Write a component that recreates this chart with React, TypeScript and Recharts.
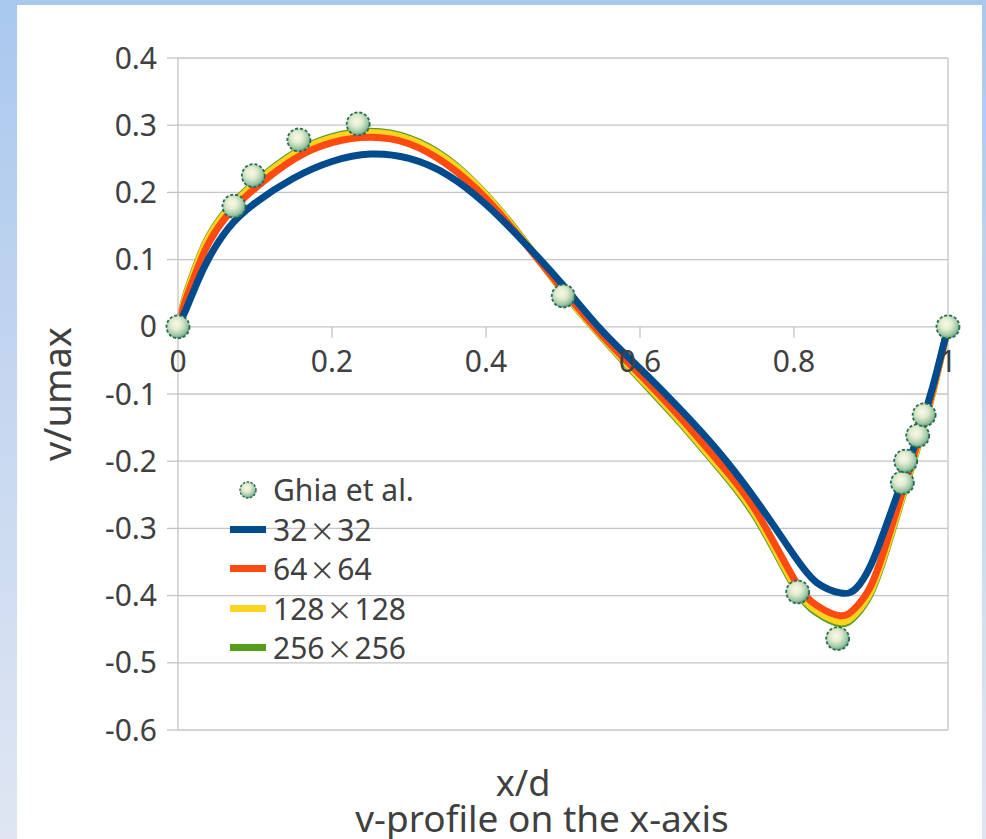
import React from 'react';
import {
  LineChart,
  Line,
  XAxis,
  YAxis,
  CartesianGrid,
  ReferenceLine,
  ReferenceDot,
  Label,
  Legend,
} from 'recharts';

// ---------- data ----------
const gridX = [0, 0.01, 0.025, 0.04, 0.065, 0.1, 0.15, 0.2, 0.25, 0.3, 0.35, 0.4, 0.45, 0.5, 0.55, 0.6, 0.65, 0.7, 0.75, 0.8, 0.83, 0.86, 0.88, 0.9, 0.92, 0.94, 0.96, 0.98, 1];

const v32 = [0, 0.025, 0.066, 0.102, 0.146, 0.184, 0.221, 0.246, 0.257, 0.2505, 0.226, 0.182, 0.125, 0.062, -0.005, -0.062, -0.12, -0.183, -0.257, -0.34, -0.381, -0.396, -0.39, -0.354, -0.295, -0.231, -0.165, -0.09, 0];
const v64 = [0, 0.04, 0.086, 0.125, 0.167, 0.206, 0.249, 0.274, 0.282, 0.2725, 0.241, 0.191, 0.125, 0.055, -0.012, -0.071, -0.132, -0.198, -0.273, -0.375, -0.415, -0.43, -0.418, -0.385, -0.322, -0.249, -0.175, -0.095, 0];
const v128 = [0, 0.045, 0.094, 0.133, 0.174, 0.213, 0.256, 0.281, 0.289, 0.279, 0.248, 0.196, 0.127, 0.053, -0.014, -0.076, -0.138, -0.205, -0.28, -0.383, -0.423, -0.439, -0.427, -0.393, -0.33, -0.255, -0.18, -0.098, 0];
const v256 = [0, 0.047, 0.096, 0.135, 0.176, 0.215, 0.258, 0.283, 0.291, 0.281, 0.25, 0.197, 0.128, 0.052, -0.015, -0.078, -0.14, -0.207, -0.283, -0.386, -0.426, -0.442, -0.43, -0.396, -0.333, -0.257, -0.182, -0.099, 0];

const ghiaX = [0, 0.0727, 0.0978, 0.157, 0.234, 0.5004, 0.8048, 0.8567, 0.9407, 0.9451, 0.9607, 0.969, 1];
const ghiaV = [0, 0.1795, 0.2249, 0.278, 0.302, 0.0458, -0.3946, -0.464, -0.232, -0.1997, -0.162, -0.131, 0];

const xTicks = [0, 0.2, 0.4, 0.6, 0.8, 1];
const xTickLabels = ['0', '0.2', '0.4', '0.6', '0.8', '1'];
const yTicks = [-0.6, -0.5, -0.4, -0.3, -0.2, -0.1, 0, 0.1, 0.2, 0.3, 0.4];
const yTickLabels = ['-0.6', '-0.5', '-0.4', '-0.3', '-0.2', '-0.1', '0', '0.1', '0.2', '0.3', '0.4'];

const legendOrder = ['Ghia et al.', '32×32', '64×64', '128×128', '256×256'];

// ---------- build tables ----------
const toRows = (xs: number[], vs: number[]) => xs.map((x, i) => ({ x, v: vs[i] }));
const d32 = toRows(gridX, v32);
const d64 = toRows(gridX, v64);
const d128 = toRows(gridX, v128);
const d256 = toRows(gridX, v256);
const dGhia = toRows(ghiaX, ghiaV);

const FONT = '"Noto Sans", "DejaVu Sans", sans-serif';
const TEXT = '#404040';
const GRID = '#c4c4c4';

const colors: Record<string, string> = {
  '32×32': '#004b8d',
  '64×64': '#ff4a12',
  '128×128': '#ffd320',
  '256×256': '#579d1c',
};

const GhiaDot = (props: any) => {
  const { cx, cy, index } = props;
  if (cx == null || cy == null) return <g key={`g${index}`} />;
  return (
    <circle
      key={`g${index}`}
      cx={cx}
      cy={cy}
      r={11.5}
      fill="url(#ghiaGrad)"
      stroke="#2a6a4f"
      strokeWidth={1.8}
      strokeDasharray="3 2"
    />
  );
};

const makeXTick = (label: string) => (props: any) => {
  const { cx, cy } = props;
  return (
    <g>
      <line x1={cx} y1={cy} x2={cx} y2={cy + 11} stroke={GRID} strokeWidth={1.3} />
      <text
        x={cx}
        y={cy + 45}
        textAnchor="middle"
        fontFamily={FONT}
        fontSize={30}
        fill={TEXT}
      >
        {label}
      </text>
    </g>
  );
};

const XTitle = (props: any) => {
  const vb = props.viewBox || {};
  const cxm = vb.x + vb.width / 2;
  return (
    <g>
      <text x={cxm - 40} y={vb.y + 66} textAnchor="middle" fontFamily={FONT} fontSize={36} fill={TEXT}>
        x/d
      </text>
      <text x={cxm - 21} y={vb.y + 102} textAnchor="middle" fontFamily={FONT} fontSize={37} fill={TEXT}>
        v-profile on the x-axis
      </text>
    </g>
  );
};

const YTitle = (props: any) => {
  const vb = props.viewBox || {};
  const cym = vb.y + vb.height / 2;
  const x = vb.x + 71;
  return (
    <text
      x={x}
      y={cym}
      transform={`rotate(-90, ${x}, ${cym})`}
      textAnchor="middle"
      fontFamily={FONT}
      fontSize={38}
      fill={TEXT}
    >
      v/umax
    </text>
  );
};

const renderName = (name: string) => {
  const parts = name.split('×');
  if (parts.length < 2) return name;
  return (
    <>
      {parts[0]}
      <span style={{ fontFamily: '"Noto Sans CJK JP", "Noto Sans", sans-serif', fontSize: 26, margin: '0 2px' }}>×</span>
      {parts[1]}
    </>
  );
};

const LegendContent = () => {
  return (
    <div style={{ fontFamily: FONT, fontSize: 30, color: TEXT }}>
      {legendOrder.map((name) => (
        <div key={name} style={{ display: 'flex', alignItems: 'center', height: 39.5 }}>
          <div style={{ width: 36, display: 'flex', justifyContent: 'center', alignItems: 'center', marginRight: 7 }}>
            {name === 'Ghia et al.' ? (
              <svg width={20} height={20}>
                <circle cx={10} cy={10} r={8} fill="url(#ghiaGrad)" stroke="#2a6a4f" strokeWidth={1.4} strokeDasharray="2.5 1.5" />
              </svg>
            ) : (
              <div style={{ width: 36, height: 7, background: colors[name] }} />
            )}
          </div>
          <span style={{ lineHeight: '39.5px', whiteSpace: 'nowrap' }}>{renderName(name)}</span>
        </div>
      ))}
    </div>
  );
};

export default function App() {
  return (
    <div
      style={{
        position: 'absolute',
        left: 0,
        top: 0,
        width: 986,
        height: 839,
        overflow: 'hidden',
        background: 'linear-gradient(to bottom, #a9c8ee 0%, #c4d6f0 45%, #dfe6f2 100%)',
      }}
    >
      <div
        style={{
          position: 'absolute',
          left: 17,
          top: 5,
          width: 965,
          height: 860,
          background: '#ffffff',
        }}
      />
      <div style={{ position: 'absolute', left: 0, top: 0 }}>
        <LineChart width={986} height={839} margin={{ top: 58, right: 38, bottom: 0, left: 0 }}>
          <defs>
            <radialGradient id="ghiaGrad" cx="42%" cy="38%" r="62%">
              <stop offset="0%" stopColor="#f9f9e6" />
              <stop offset="40%" stopColor="#e2ebcf" />
              <stop offset="80%" stopColor="#9cc7a6" />
              <stop offset="100%" stopColor="#5d9c7b" />
            </radialGradient>
          </defs>
          <CartesianGrid horizontal vertical={false} stroke={GRID} strokeWidth={1.3} />
          <XAxis
            type="number"
            dataKey="x"
            domain={[0, 1]}
            ticks={xTicks}
            tick={false}
            tickLine={false}
            axisLine={false}
            height={109}
          >
            <Label content={XTitle} />
          </XAxis>
          <YAxis
            type="number"
            domain={[-0.6, 0.4]}
            ticks={yTicks}
            interval={0}
            width={178}
            tickSize={11}
            tickMargin={10}
            tickFormatter={(v: number) => yTickLabels[yTicks.indexOf(v)] ?? String(v)}
            tick={{ fontFamily: FONT, fontSize: 30, fill: TEXT }}
            tickLine={{ stroke: GRID, strokeWidth: 1.3 }}
            axisLine={{ stroke: GRID, strokeWidth: 1.3 }}
          >
            <Label content={YTitle} />
          </YAxis>
          <ReferenceLine x={1} stroke={GRID} strokeWidth={1.3} />
          {xTicks.map((t, i) => (
            <ReferenceDot key={`xt${i}`} x={t} y={0} r={0} shape={makeXTick(xTickLabels[i])} />
          ))}
          <Line data={d256} dataKey="v" name="256×256" type="natural" stroke={colors['256×256']} strokeWidth={7} dot={false} activeDot={false} isAnimationActive={false} />
          <Line data={d128} dataKey="v" name="128×128" type="natural" stroke={colors['128×128']} strokeWidth={7} dot={false} activeDot={false} isAnimationActive={false} />
          <Line data={d64} dataKey="v" name="64×64" type="natural" stroke={colors['64×64']} strokeWidth={7} dot={false} activeDot={false} isAnimationActive={false} />
          <Line data={d32} dataKey="v" name="32×32" type="natural" stroke={colors['32×32']} strokeWidth={7} dot={false} activeDot={false} isAnimationActive={false} />
          <Line data={dGhia} dataKey="v" name="Ghia et al." stroke="none" strokeWidth={0} dot={GhiaDot} activeDot={false} legendType="circle" isAnimationActive={false} />
          <Legend
            layout="vertical"
            align="center"
            verticalAlign="middle"
            wrapperStyle={{ left: 230, top: 470, width: 'auto' }}
            content={LegendContent}
          />
        </LineChart>
      </div>
    </div>
  );
}
